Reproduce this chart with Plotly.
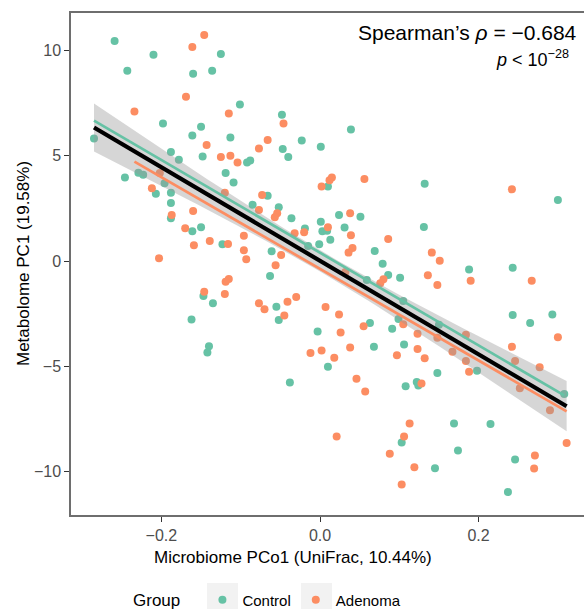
import numpy as np
import plotly.graph_objects as go

# ---------------- data ----------------
control_x = [-0.259, -0.210, -0.243, -0.160, -0.136, -0.125, -0.101, -0.198, -0.150, -0.161,
             -0.113, -0.285, -0.188, -0.178, -0.148, -0.119, -0.109, -0.246, -0.229, -0.223,
             -0.196, -0.207, -0.188, -0.048, 0.039, -0.023, -0.047, -0.040, 0.001, -0.092,
             -0.088, 0.010, -0.066, 0.132, 0.300, -0.188, -0.188, -0.161, -0.150, -0.123,
             -0.147, -0.135, -0.162, -0.140, -0.142, -0.085, -0.052, -0.036, -0.019, 0.001,
             0.024, 0.051, 0.031, 0.003, 0.009, 0.013, -0.001, -0.015, -0.061, 0.069,
             0.079, 0.086, 0.101, 0.059, -0.063, 0.105, -0.055, -0.052, 0.063, 0.099,
             0.091, -0.003, 0.106, 0.068, 0.010, 0.131, 0.188, 0.243, 0.243, 0.265,
             0.293, 0.150, 0.148, 0.198, 0.122, 0.124, 0.308, 0.169, 0.215, 0.174,
             0.246, 0.145, 0.237, -0.038, 0.108, 0.103]
control_y = [10.46, 9.81, 9.05, 8.90, 9.05, 9.84, 7.44, 6.54, 6.38, 5.97,
             5.87, 5.82, 5.18, 4.82, 4.97, 4.18, 3.73, 3.97, 4.20, 4.10,
             3.70, 3.20, 3.24, 6.95, 6.25, 5.73, 5.32, 4.95, 5.43, 4.68,
             4.78, 3.54, 3.10, 3.67, 2.90, 2.76, 2.03, 1.41, 1.60, 0.80,
             -1.67, -2.01, -2.78, -4.05, -4.35, 2.67, 2.56, 2.03, 1.54, 1.87,
             2.19, 2.11, 1.59, 1.41, 1.44, 1.01, 0.80, 0.71, 0.46, 0.48,
             -0.13, -0.67, -0.80, -0.90, -0.71, -1.90, -2.18, -2.81, -2.95, -2.76,
             -3.22, -3.35, -3.97, -4.08, -5.03, 1.62, -0.41, -0.32, -2.57, -2.95,
             -2.54, -3.03, -5.32, -5.22, -5.75, -5.92, -6.32, -7.73, -7.75, -9.01,
             -9.44, -9.86, -10.99, -5.78, -5.95, -8.63]

adenoma_x = [-0.146, -0.161, -0.169, -0.234, -0.115, -0.143, -0.125, -0.113, -0.104, -0.202,
             -0.212, -0.120, -0.046, -0.066, -0.077, 0.015, 0.012, 0.002, 0.056, -0.073,
             0.242, -0.187, -0.160, -0.170, -0.159, -0.139, -0.116, -0.096, -0.096, -0.093,
             -0.203, -0.115, -0.119, -0.146, -0.120, -0.077, -0.054, -0.057, -0.032, -0.020,
             0.010, 0.038, 0.039, 0.086, 0.041, 0.036, -0.049, -0.056, 0.080, 0.076,
             0.032, -0.030, -0.041, -0.077, -0.070, -0.045, 0.007, 0.024, 0.055, 0.026,
             0.105, 0.038, 0.002, -0.012, 0.018, 0.097, 0.046, 0.141, 0.151, 0.136,
             0.148, 0.190, 0.267, 0.300, 0.123, 0.148, 0.184, 0.123, 0.132, 0.167,
             0.184, 0.242, 0.246, 0.277, 0.188, 0.128, 0.252, 0.290, 0.113, 0.311,
             0.271, 0.270, 0.119, 0.057, 0.021, 0.106, 0.088, 0.103]
adenoma_y = [10.75, 10.18, 7.81, 7.11, 7.01, 5.52, 4.94, 5.01, 4.68, 4.18,
             3.46, 3.25, 6.54, 5.75, 5.35, 3.97, 3.84, 3.54, 3.90, 3.14,
             3.41, 2.19, 2.38, 1.56, 0.75, 0.95, 0.81, 1.20, 0.51, 0.08,
             0.13, -0.86, -0.99, -1.46, -1.57, 2.43, 2.27, 2.08, 1.32, 1.37,
             1.60, 2.27, 1.22, 1.05, 0.62, 0.40, 0.29, -0.20, -0.87, -1.06,
             -0.52, -1.71, -1.94, -2.01, -2.29, -2.59, -2.19, -2.54, -3.10, -3.40,
             -3.01, -4.11, -4.25, -4.38, -4.60, -4.48, -5.60, 0.40, 0.01, -0.68,
             -1.14, -0.94, -0.94, -3.62, -3.46, -3.65, -3.51, -4.19, -4.63, -4.32,
             -4.75, -4.08, -4.75, -5.05, -5.27, -5.82, -6.05, -7.10, -7.73, -8.65,
             -9.25, -9.87, -9.81, -6.20, -8.35, -8.35, -9.16, -10.63]

group_names = ["Control", "Adenoma"]
group_colors = ["#66C2A5", "#FC8D62"]

x_tick_vals = [-0.2, 0.0, 0.2]
x_tick_text = ["\u22120.2", "0.0", "0.2"]
y_tick_vals = [-10, -5, 0, 5, 10]
y_tick_text = ["\u221210", "\u22125", "0", "5", "10"]

x_title = "Microbiome PCo1 (UniFrac, 10.44%)"
y_title = "Metabolome PC1 (19.58%)"
legend_title = "Group"
stat_line1 = "Spearman\u2019s <i>\u03c1</i> = \u22120.684"
stat_line2 = "<i>p</i> &lt; 10<sup>\u221228</sup>"

# ---------------- helpers ----------------
FONT = "Liberation Sans, Arial, Helvetica, sans-serif"
W, H = 584, 609
L, R, T, B = 71, 0, 13, 94
PW, PH = W - L - R, H - T - B


def px_x(p):
    return (p - L) / PW


def px_y(p):
    return (H - B - p) / PH


def lm(x, y):
    x = np.asarray(x, float)
    y = np.asarray(y, float)
    b, a = np.polyfit(x, y, 1)
    return a, b


fig = go.Figure()

# points
for name, col, xs, ys in [(group_names[0], group_colors[0], control_x, control_y),
                          (group_names[1], group_colors[1], adenoma_x, adenoma_y)]:
    fig.add_trace(go.Scatter(x=xs, y=ys, mode="markers", name=name,
                             marker=dict(color=col, size=8, line=dict(width=0)),
                             showlegend=True))

# overall regression with 95% CI band
all_x = np.array(control_x + adenoma_x, float)
all_y = np.array(control_y + adenoma_y, float)
a, b = lm(all_x, all_y)
n = len(all_x)
resid = all_y - (a + b * all_x)
s = np.sqrt(np.sum(resid ** 2) / (n - 2))
xbar = all_x.mean()
sxx = np.sum((all_x - xbar) ** 2)
grid = np.linspace(all_x.min(), all_x.max(), 80)
fit = a + b * grid
se = s * np.sqrt(1.0 / n + (grid - xbar) ** 2 / sxx)
tq = 1.9723
upper = fit + tq * se
lower = fit - tq * se
fig.add_trace(go.Scatter(x=np.concatenate([grid, grid[::-1]]),
                         y=np.concatenate([upper, lower[::-1]]),
                         mode="lines", fill="toself",
                         fillcolor="rgba(153,153,153,0.4)",
                         line=dict(width=0), hoverinfo="skip", showlegend=False))

# group regression lines
for col, xs, ys in [(group_colors[0], control_x, control_y),
                    (group_colors[1], adenoma_x, adenoma_y)]:
    ga, gb = lm(xs, ys)
    gx = np.array([min(xs), max(xs)])
    fig.add_trace(go.Scatter(x=gx, y=ga + gb * gx, mode="lines",
                             line=dict(color=col, width=2.7), showlegend=False,
                             hoverinfo="skip"))

# overall line
fig.add_trace(go.Scatter(x=grid, y=fit, mode="lines",
                         line=dict(color="black", width=4.2), showlegend=False,
                         hoverinfo="skip"))

x_range = [(L - 320) / 793.0, (W - 320) / 793.0]
y_range = [(261 - (H - B)) / 21.03, (261 - T) / 21.03]

axis_common = dict(showgrid=False, zeroline=False, showline=True,
                   linecolor="#6E6E6E", linewidth=1.5,
                   ticks="outside", ticklen=5, tickwidth=1.3, tickcolor="#333333",
                   tickfont=dict(family=FONT, size=16, color="#4D4D4D"))

fig.update_layout(
    width=W, height=H,
    margin=dict(l=L, r=R, t=T, b=B, autoexpand=False),
    paper_bgcolor="white", plot_bgcolor="white",
    font=dict(family=FONT, color="black"),
    xaxis=dict(range=x_range, tickvals=x_tick_vals, ticktext=x_tick_text,
               mirror=True, **axis_common),
    yaxis=dict(range=y_range, tickvals=y_tick_vals, ticktext=y_tick_text,
               mirror=False, **axis_common),
    legend=dict(orientation="h", xref="container", yref="container",
                x=131 / W, y=(H - 600) / H, xanchor="left", yanchor="middle",
                bgcolor="rgba(0,0,0,0)",
                title=dict(text=legend_title + "&nbsp;&nbsp;&nbsp;", side="left",
                           font=dict(family=FONT, size=17, color="black")),
                font=dict(family=FONT, size=15, color="black")),
    showlegend=True,
)

# legend key backgrounds
for x0 in (207, 301):
    fig.add_shape(type="rect", xref="paper", yref="paper",
                  x0=px_x(x0), x1=px_x(x0 + 31), y0=px_y(614), y1=px_y(583),
                  fillcolor="#F2F2F2", line=dict(width=0), layer="below")

fig.add_annotation(text=stat_line1, xref="paper", yref="paper",
                   x=px_x(579), y=px_y(33), xanchor="right", yanchor="middle",
                   showarrow=False, font=dict(family=FONT, size=21, color="black"))
fig.add_annotation(text=stat_line2, xref="paper", yref="paper",
                   x=px_x(571), y=px_y(58), xanchor="right", yanchor="middle",
                   showarrow=False, font=dict(family=FONT, size=18, color="black"))
fig.add_annotation(text=x_title, xref="paper", yref="paper",
                   x=px_x(293), y=px_y(557), xanchor="center", yanchor="middle",
                   showarrow=False, font=dict(family=FONT, size=17, color="black"))
fig.add_annotation(text=y_title, xref="paper", yref="paper", textangle=-90,
                   x=px_x(23), y=px_y(264), xanchor="center", yanchor="middle",
                   showarrow=False, font=dict(family=FONT, size=17, color="black"))

fig.write_html("out.html", config={"displayModeBar": False},
               post_script="document.body.style.margin='0';document.body.style.overflow='hidden';")
